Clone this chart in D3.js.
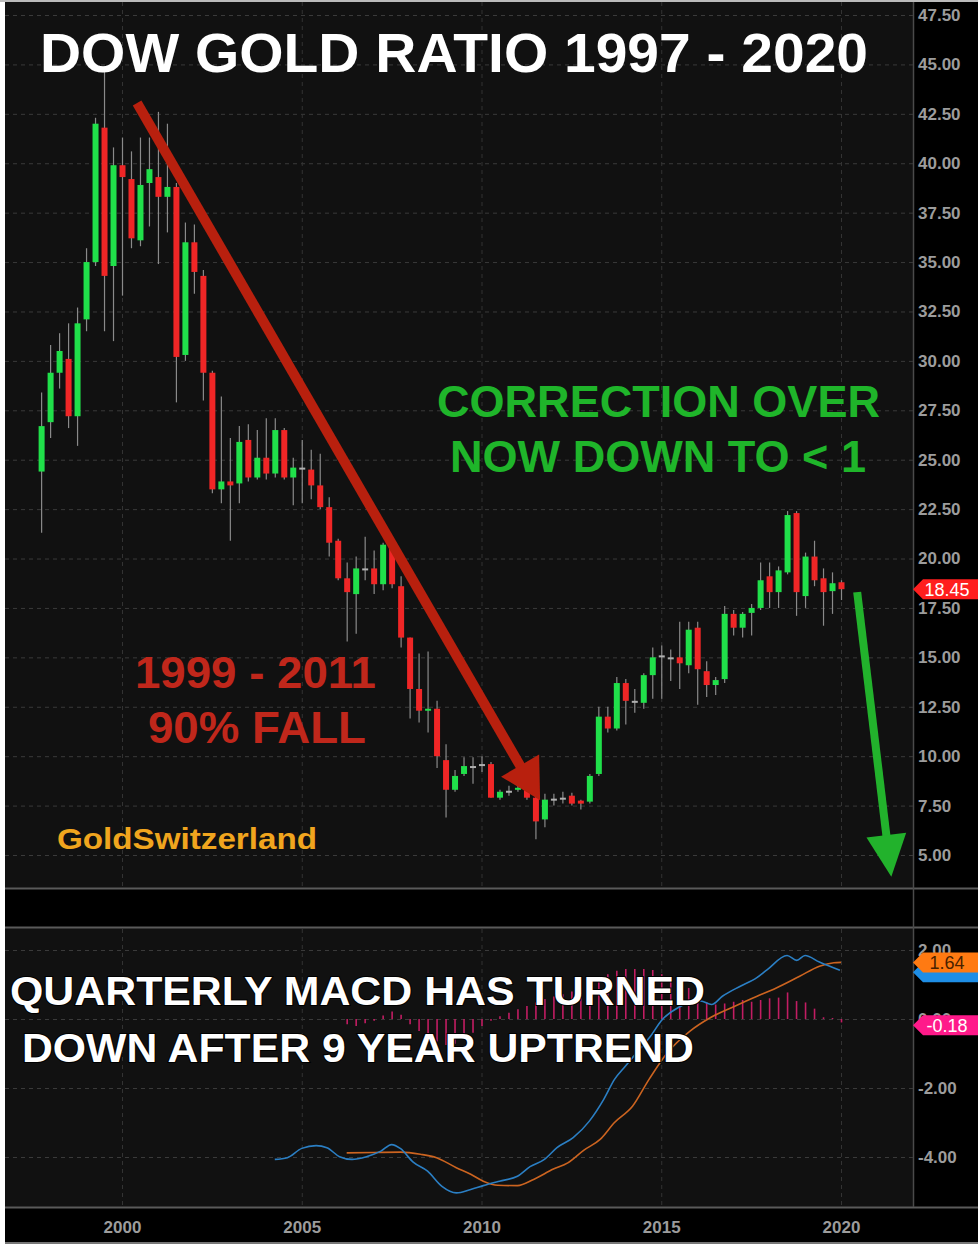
<!DOCTYPE html>
<html>
<head>
<meta charset="utf-8">
<script src="https://cdn.jsdelivr.net/npm/d3@7"></script>
<style>
body { margin: 0; background: #fff; }
svg { display: block; }
</style>
</head>
<body>
<div id="chart"></div>
<script>
// quarterly candles, first one is Q4 1997, last one Q1 2020
var firstQuarter = 1997.75;
var open  = [24.4, 26.9, 29.4, 30.1, 27.2, 32.1, 35.0, 41.8, 34.8, 39.9,
             39.2, 36.1, 39.0, 39.3, 38.3, 38.8, 30.3, 36.0, 34.3, 29.4,
             23.5, 23.9, 23.8, 26.0, 24.1, 25.1, 24.3, 26.5, 24.1, 24.6,
             24.5, 23.7, 22.6, 20.9, 19.0, 18.2, 19.5, 19.5, 18.7, 20.5,
             18.6, 16.0, 13.4, 12.3, 12.4, 9.8, 8.3, 9.1, 9.5, 9.6,
             9.6, 7.9, 8.25, 8.3, 8.4, 7.9, 6.8, 7.85, 7.9, 8.0,
             7.75, 7.7, 9.1, 12.0, 11.4, 13.7, 12.8, 12.7, 14.1, 15.1,
             15.0, 15.0, 14.6, 16.5, 14.3, 13.6, 13.9, 17.2, 16.5, 17.25,
             17.5, 19.1, 18.3, 19.3, 22.3, 18.1, 20.1, 19.0, 18.35, 18.8];
var high  = [28.4, 30.8, 31.4, 31.9, 32.7, 35.7, 42.3, 44.7, 40.8, 41.3,
             40.6, 41.3, 41.3, 42.6, 42.0, 39.0, 37.0, 36.9, 34.6, 29.5,
             28.2, 26.1, 26.7, 26.8, 26.5, 27.1, 27.1, 26.6, 25.1, 26.0,
             25.5, 25.3, 23.1, 21.0, 19.8, 20.1, 21.1, 20.4, 20.8, 20.8,
             19.1, 16.0, 15.2, 15.3, 12.8, 10.6, 9.3, 9.95, 9.95, 10.0,
             9.7, 8.3, 8.5, 8.6, 8.6, 8.0, 8.1, 8.1, 8.2, 8.15,
             7.8, 9.1, 12.5, 12.5, 14.0, 13.9, 13.4, 14.2, 15.5, 15.6,
             15.4, 16.8, 16.8, 16.8, 14.8, 14.0, 17.6, 17.4, 17.3, 17.7,
             19.8, 19.8, 19.6, 22.4, 22.4, 20.3, 20.9, 19.5, 19.3, 18.9];
var low   = [21.3, 26.1, 28.6, 26.6, 25.7, 31.5, 34.8, 31.5, 31.0, 33.3,
             35.7, 35.8, 36.8, 34.9, 36.5, 27.9, 30.0, 33.4, 28.0, 23.3,
             22.8, 20.9, 22.8, 23.9, 24.0, 24.0, 24.1, 24.0, 22.7, 22.8,
             23.0, 22.5, 20.1, 18.9, 15.8, 16.2, 18.9, 18.2, 18.4, 18.5,
             15.5, 11.9, 11.7, 11.2, 9.4, 6.9, 8.2, 9.0, 8.6, 9.2,
             7.9, 7.8, 8.0, 8.2, 7.8, 5.8, 6.4, 7.5, 7.6, 7.5,
             7.3, 7.6, 9.0, 11.2, 11.3, 11.6, 12.2, 12.4, 12.9, 12.9,
             13.8, 13.4, 14.2, 12.6, 13.0, 13.1, 13.7, 16.1, 16.0, 16.1,
             17.4, 17.5, 17.5, 19.2, 17.1, 17.5, 18.6, 16.6, 17.2, 17.9];
var close = [26.7, 29.4, 30.5, 27.2, 31.9, 35.0, 42.0, 34.3, 39.9, 39.3,
             36.2, 38.9, 39.7, 38.3, 38.8, 30.2, 36.0, 34.5, 29.4, 23.5,
             23.9, 23.7, 25.9, 24.1, 25.1, 24.3, 26.5, 24.1, 24.6, 24.6,
             23.7, 22.6, 20.8, 19.0, 18.3, 19.5, 19.5, 18.7, 20.7, 18.7,
             16.0, 13.4, 12.3, 12.4, 10.0, 8.3, 9.0, 9.5, 9.5, 9.6,
             7.9, 8.2, 8.25, 8.4, 7.9, 6.7, 7.8, 7.85, 7.9, 7.6,
             7.6, 9.0, 12.0, 11.4, 13.7, 12.8, 12.8, 14.1, 15.0, 15.1,
             15.0, 14.7, 16.4, 14.4, 13.6, 13.85, 17.2, 16.5, 17.2, 17.5,
             18.9, 18.3, 19.4, 22.2, 18.3, 20.1, 18.9, 18.3, 18.75, 18.45];

var priceTicks = [5, 7.5, 10, 12.5, 15, 17.5, 20, 22.5, 25, 27.5, 30, 32.5, 35, 37.5, 40, 42.5, 45, 47.5];
var yearTicks = [2000, 2005, 2010, 2015, 2020];
var macdTicks = [2, 0, -2, -4];

// MACD line (blue)
var macdYears  = [2004.25, 2004.6, 2005.0, 2005.4, 2005.7, 2006.05, 2006.4, 2006.8, 2007.2, 2007.5,
                  2007.75, 2008.1, 2008.5, 2008.9, 2009.3, 2009.7, 2010.05, 2010.5, 2011.0, 2011.35,
                  2011.75, 2012.1, 2012.55, 2013.0, 2013.4, 2013.7, 2014.0, 2014.5, 2014.7, 2015.0,
                  2015.5, 2016.1, 2016.4, 2016.7, 2017.2, 2017.65, 2017.95, 2018.5, 2018.77, 2019.0,
                  2019.4, 2019.97];
var macdValues = [-4.07, -4.02, -3.75, -3.67, -3.73, -3.99, -4.07, -3.99, -3.83, -3.64,
                  -3.76, -4.15, -4.41, -4.85, -5.04, -4.94, -4.83, -4.70, -4.56, -4.28,
                  -4.07, -3.73, -3.44, -2.96, -2.33, -1.75, -1.37, -0.75, -0.5, -0.05,
                  0.35, 0.52, 0.42, 0.66, 0.95, 1.19, 1.43, 1.84, 1.70, 1.84,
                  1.65, 1.41];
// signal line (orange)
var signalYears  = [2006.25, 2007.0, 2007.75, 2008.3, 2008.75, 2009.3, 2009.7, 2010.05, 2010.45, 2011.0,
                    2011.45, 2012.0, 2012.4, 2012.85, 2013.3, 2013.7, 2014.2, 2014.66, 2015.17, 2015.8,
                    2016.35, 2017.0, 2017.55, 2018.2, 2018.85, 2019.4, 2019.8, 2020.0];
var signalValues = [-3.88, -3.87, -3.86, -3.92, -4.02, -4.31, -4.5, -4.70, -4.82, -4.83,
                    -4.65, -4.35, -4.17, -3.8, -3.49, -3.0, -2.53, -1.75, -0.98, -0.35,
                    0.03, 0.35, 0.61, 0.9, 1.24, 1.53, 1.63, 1.64];
// histogram, one bar per quarter from Q2 2006
var histStart = 2006.25;
var histValues = [-0.15, -0.2, -0.12,
                  -0.05, 0.1, 0.22, 0.12,
                  -0.15, -0.35, -0.5, -0.65,
                  -0.75, -0.72, -0.58, -0.4,
                  -0.2, -0.05, 0.08, 0.18,
                  0.28, 0.38, 0.48, 0.58,
                  0.65, 0.72, 0.8, 0.9,
                  1.0, 1.15, 1.3, 1.4,
                  1.45, 1.45, 1.45, 1.42,
                  1.3, 1.2, 1.08, 0.9,
                  0.65, 0.48, 0.42, 0.45,
                  0.5, 0.55, 0.5, 0.55,
                  0.6, 0.62, 0.77, 0.52,
                  0.48, 0.3, 0.05, 0.03,
                  -0.1];

var lastPrice = 18.45;
var lastSignal = 1.64;
var lastMacd = 1.41;
var lastHist = -0.18;

var width = 978;
var height = 1246;
var axisX = 913;

var svg = d3.select('#chart')
  .append('svg')
    .attr('width', width)
    .attr('height', height)
    .style('font-family', '"Liberation Sans", Arial, Helvetica, sans-serif');

var x = d3.scaleLinear().domain([2000, 2020]).range([122, 841]);
var y = d3.scaleLinear().domain([5, 47.5]).range([855, 15]);
var ym = d3.scaleLinear().domain([-4, 2]).range([1157, 950]);

// frame
svg.append('rect').attr('x', 5).attr('y', 2).attr('width', width - 5).attr('height', 1241).attr('fill', '#000');
svg.append('rect').attr('x', 5).attr('y', 2).attr('width', axisX - 5).attr('height', 886).attr('fill', '#111');
svg.append('rect').attr('x', 5).attr('y', 928).attr('width', axisX - 5).attr('height', 279).attr('fill', '#111');
svg.append('line').attr('x1', 0).attr('x2', width).attr('y1', 1).attr('y2', 1).attr('stroke', '#bbb').attr('stroke-width', 2);
[888.5, 927.5, 1207.5].forEach(function(yy) {
  svg.append('line').attr('x1', 5).attr('x2', width).attr('y1', yy).attr('y2', yy)
    .attr('stroke', '#5a5a5a').attr('stroke-width', 2);
});
svg.append('line').attr('x1', 5).attr('x2', width).attr('y1', 1243).attr('y2', 1243).attr('stroke', '#777').attr('stroke-width', 2);
svg.append('line').attr('x1', axisX + 0.5).attr('x2', axisX + 0.5).attr('y1', 2).attr('y2', 1207)
  .attr('stroke', '#4a4a4a').attr('stroke-width', 1.5);

// grid
svg.selectAll('.hgrid').data(priceTicks).enter()
  .append('line')
    .attr('x1', 5).attr('x2', axisX)
    .attr('y1', function(d) { return y(d) + 0.5; })
    .attr('y2', function(d) { return y(d) + 0.5; })
    .attr('stroke', '#3a3a3a').attr('stroke-dasharray', '4,4');
svg.selectAll('.mgrid').data(macdTicks).enter()
  .append('line')
    .attr('x1', 5).attr('x2', axisX)
    .attr('y1', function(d) { return ym(d) + 0.5; })
    .attr('y2', function(d) { return ym(d) + 0.5; })
    .attr('stroke', '#3a3a3a').attr('stroke-dasharray', '4,4');
yearTicks.forEach(function(yr) {
  svg.append('line').attr('x1', x(yr) + 0.5).attr('x2', x(yr) + 0.5).attr('y1', 2).attr('y2', 887)
    .attr('stroke', '#333').attr('stroke-dasharray', '4,4');
  svg.append('line').attr('x1', x(yr) + 0.5).attr('x2', x(yr) + 0.5).attr('y1', 929).attr('y2', 1206)
    .attr('stroke', '#333').attr('stroke-dasharray', '4,4');
});

// axes
var fmt = function(d) { return d.toFixed(2); };
var yAxis = d3.axisRight(y).tickValues(priceTicks).tickFormat(fmt).tickSize(0).tickPadding(5);
var gy = svg.append('g').attr('transform', 'translate(' + axisX + ',0)').call(yAxis);
var mAxis = d3.axisRight(ym).tickValues(macdTicks).tickFormat(fmt).tickSize(0).tickPadding(5);
var gm = svg.append('g').attr('transform', 'translate(' + axisX + ',0)').call(mAxis);
var xAxis = d3.axisBottom(x).tickValues(yearTicks).tickFormat(d3.format('d')).tickSize(0).tickPadding(13);
var gx = svg.append('g').attr('transform', 'translate(0,1208)').call(xAxis);
[gy, gm, gx].forEach(function(g) {
  g.select('.domain').remove();
  g.selectAll('text')
    .attr('fill', '#9c9c9c')
    .style('font-size', '17px')
    .style('font-weight', 'bold')
    .style('font-family', '"Liberation Sans", Arial, sans-serif');
});

// candles
var quarters = d3.range(open.length).map(function(i) { return firstQuarter + i * 0.25; });
var candles = quarters.map(function(q, i) {
  return {date: q, o: open[i], h: high[i], l: low[i], c: close[i]};
});

svg.selectAll('.wick').data(candles).enter()
  .append('line')
    .attr('x1', function(d) { return x(d.date) + 0.5; })
    .attr('x2', function(d) { return x(d.date) + 0.5; })
    .attr('y1', function(d) { return y(d.h); })
    .attr('y2', function(d) { return y(d.l); })
    .attr('stroke', '#8a8a8a').attr('stroke-width', 1.2);

svg.selectAll('.body').data(candles).enter()
  .append('rect')
    .attr('x', function(d) { return x(d.date) - 2.5; })
    .attr('width', 6)
    .attr('y', function(d) { return y(Math.max(d.o, d.c)); })
    .attr('height', function(d) { return Math.max(2, Math.abs(y(d.o) - y(d.c))); })
    .attr('fill', function(d) {
      if (d.c > d.o) return '#20e04a';
      if (d.c < d.o) return '#f02626';
      return '#b0b0b0';
    });

// MACD panel
svg.selectAll('.hist').data(histValues).enter()
  .append('line')
    .attr('x1', function(d, i) { return x(histStart + i * 0.25) + 0.5; })
    .attr('x2', function(d, i) { return x(histStart + i * 0.25) + 0.5; })
    .attr('y1', ym(0))
    .attr('y2', function(d) { return ym(d); })
    .attr('stroke', '#c21d63').attr('stroke-width', 1.6);

var line = d3.line()
  .x(function(d) { return x(d[0]); })
  .y(function(d) { return ym(d[1]); })
  .curve(d3.curveMonotoneX);

svg.append('path')
  .datum(signalYears.map(function(yr, i) { return [yr, signalValues[i]]; }))
  .attr('d', line)
  .attr('fill', 'none').attr('stroke', '#cc6420').attr('stroke-width', 1.6);
svg.append('path')
  .datum(macdYears.map(function(yr, i) { return [yr, macdValues[i]]; }))
  .attr('d', line)
  .attr('fill', 'none').attr('stroke', '#2b7fc4').attr('stroke-width', 1.6);

// right side value badges
function badge(yPos, fill, label, textColor) {
  svg.append('path')
    .attr('d', 'M' + axisX + ',' + yPos + 'L' + (axisX + 10) + ',' + (yPos - 10) + 'L' + width + ',' + (yPos - 10) +
               'L' + width + ',' + (yPos + 10) + 'L' + (axisX + 10) + ',' + (yPos + 10) + 'Z')
    .attr('fill', fill);
  if (label) {
    svg.append('text')
      .attr('x', 947).attr('y', yPos + 6.5)
      .attr('text-anchor', 'middle')
      .attr('fill', textColor)
      .style('font-size', '18px')
      .text(label);
  }
}
badge(y(lastPrice), '#ff1e1e', lastPrice.toFixed(2), '#fff');
// the MACD badge is almost fully covered by the signal badge in the original
badge(ym(lastMacd) + 2, '#1e8ee6', null, '#fff');
badge(ym(lastSignal), '#ff7a12', lastSignal.toFixed(2), '#4a2200');
badge(ym(lastHist), '#ff1a8a', lastHist.toFixed(2), '#fff');

// arrows
function arrow(x0, y0, x1, y1, color, lineW, headLen, headHalf) {
  var dx = x1 - x0, dy = y1 - y0;
  var len = Math.sqrt(dx * dx + dy * dy);
  var ux = dx / len, uy = dy / len;
  var bx = x1 - ux * headLen, by = y1 - uy * headLen;
  svg.append('line')
    .attr('x1', x0).attr('y1', y0).attr('x2', bx + ux * 2).attr('y2', by + uy * 2)
    .attr('stroke', color).attr('stroke-width', lineW);
  svg.append('path')
    .attr('d', 'M' + x1 + ',' + y1 +
               'L' + (bx - uy * headHalf) + ',' + (by + ux * headHalf) +
               'L' + (bx + uy * headHalf) + ',' + (by - ux * headHalf) + 'Z')
    .attr('fill', color);
}
arrow(x(2000.42), y(43.05), x(2011.63), y(7.77), '#b8200e', 10, 40, 22);
arrow(x(2020.45), y(18.3), x(2021.4), y(3.9), '#22b22c', 8, 42, 20);

// annotations
function label(txt, xx, yy, size, len, color, outline) {
  var t = svg.append('text')
    .attr('x', xx).attr('y', yy)
    .attr('fill', color)
    .attr('textLength', len)
    .attr('lengthAdjust', 'spacingAndGlyphs')
    .style('font-size', size + 'px')
    .style('font-weight', 'bold')
    .text(txt);
  if (outline) {
    t.attr('stroke', '#000').attr('stroke-width', 2).attr('paint-order', 'stroke');
  }
}
label('DOW GOLD RATIO 1997 - 2020', 40, 72, 56, 828, '#fff', false);
label('CORRECTION OVER', 437, 417, 44, 443, '#1fb52a', false);
label('NOW DOWN TO < 1', 450, 472, 44, 416, '#1fb52a', false);
label('1999 - 2011', 135, 688, 44, 241, '#c0271b', false);
label('90% FALL', 148, 743, 44, 218, '#c0271b', false);
label('GoldSwitzerland', 57, 849, 30, 260, '#f0a51e', false);
label('QUARTERLY MACD HAS TURNED', 10, 1005, 40, 695, '#fff', true);
label('DOWN AFTER 9 YEAR UPTREND', 22, 1062, 40, 672, '#fff', true);
</script>
</body>
</html>
